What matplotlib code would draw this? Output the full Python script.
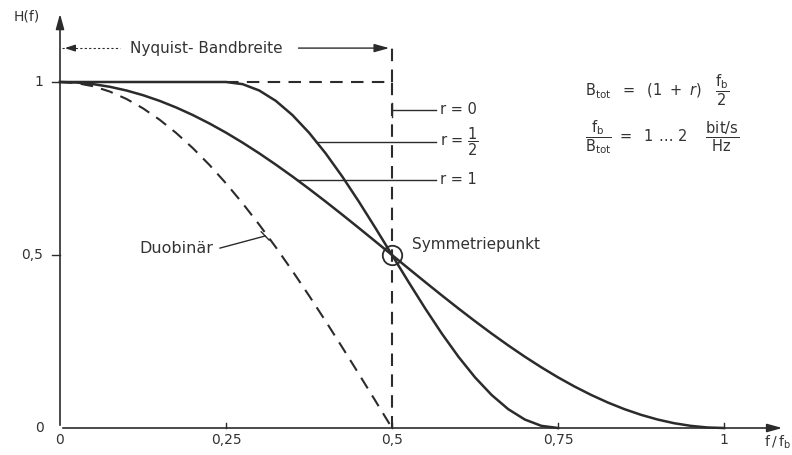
import matplotlib
matplotlib.use("Agg")
import matplotlib.pyplot as plt

plt.rcParams['font.family'] = ['DejaVu Sans']
plt.rcParams['mathtext.fontset'] = 'dejavusans'

# ---- data ----
f_r1 = [0, 0.025, 0.05, 0.075, 0.1, 0.125, 0.15, 0.175, 0.2, 0.225, 0.25, 0.275, 0.3,
        0.325, 0.35, 0.375, 0.4, 0.425, 0.45, 0.475, 0.5, 0.525, 0.55, 0.575, 0.6, 0.625,
        0.65, 0.675, 0.7, 0.725, 0.75, 0.775, 0.8, 0.825, 0.85, 0.875, 0.9, 0.925, 0.95,
        0.975, 1.0]
h_r1 = [1.0, 0.9985, 0.9938, 0.9862, 0.9755, 0.9619, 0.9455, 0.9263, 0.9045, 0.8802,
        0.8536, 0.8247, 0.7939, 0.7612, 0.7270, 0.6913, 0.6545, 0.6167, 0.5782, 0.5392,
        0.5, 0.4608, 0.4218, 0.3833, 0.3455, 0.3087, 0.2730, 0.2388, 0.2061, 0.1753,
        0.1464, 0.1198, 0.0955, 0.0737, 0.0545, 0.0381, 0.0245, 0.0138, 0.0062, 0.0015, 0.0]

f_rhalf = [0, 0.25, 0.275, 0.3, 0.325, 0.35, 0.375, 0.4, 0.425, 0.45, 0.475, 0.5, 0.525,
           0.55, 0.575, 0.6, 0.625, 0.65, 0.675, 0.7, 0.725, 0.75]
h_rhalf = [1.0, 1.0, 0.9938, 0.9755, 0.9455, 0.9045, 0.8536, 0.7939, 0.7270, 0.6545,
           0.5782, 0.5, 0.4218, 0.3455, 0.2730, 0.2061, 0.1464, 0.0955, 0.0545, 0.0245,
           0.0062, 0.0]

f_r0 = [0.25, 0.5, 0.5]
h_r0 = [1.0, 1.0, 0.0]

f_duo = [0, 0.025, 0.05, 0.075, 0.1, 0.125, 0.15, 0.175, 0.2, 0.225, 0.25, 0.275, 0.3,
         0.325, 0.35, 0.375, 0.4, 0.425, 0.45, 0.475, 0.5]
h_duo = [1.0, 0.9969, 0.9877, 0.9724, 0.9511, 0.9239, 0.8910, 0.8526, 0.8090, 0.7604,
         0.7071, 0.6494, 0.5878, 0.5225, 0.4540, 0.3827, 0.3090, 0.2334, 0.1564, 0.0785, 0.0]

x_ticks = [0, 0.25, 0.5, 0.75, 1]
x_ticklabels = ['0', '0,25', '0,5', '0,75', '1']
y_ticks = [0, 0.5, 1]
y_ticklabels = ['0', '0,5', '1']

# ---- figure ----
W, H = 792, 455
fig = plt.figure(figsize=(W / 100, H / 100), dpi=100)
ax = fig.add_axes([0, 0, 1, 1])
x0p, sx = 60, 664.0
y0p, sy = 428, 346.0
ax.set_xlim(-x0p / sx, (W - x0p) / sx)
ax.set_ylim((y0p - H) / sy, y0p / sy)
ax.axis('off')

lc = '#2b2b2b'
tc = '#333333'
lw = 1.5
dash = (0, (6, 4))

# axes with arrows
ax.annotate('', xy=(1.092, 0), xytext=(0, 0),
            arrowprops=dict(arrowstyle='-|>,head_length=0.9,head_width=0.25', color=lc, lw=1.2))
ax.annotate('', xy=(0, 1.205), xytext=(0, 0),
            arrowprops=dict(arrowstyle='-|>,head_length=0.9,head_width=0.25', color=lc, lw=1.2))

# ticks
for t in x_ticks[1:]:
    ax.plot([t, t], [0, 0.015], color=lc, lw=1.0)
for t in y_ticks[1:]:
    ax.plot([-0.012, 0], [t, t], color=lc, lw=1.0)
for t, s in zip(x_ticks, x_ticklabels):
    ax.text(t, -0.015, s, ha='center', va='top', fontsize=10, color=tc)
for t, s in zip(y_ticks, y_ticklabels):
    ax.text(-0.025, t, s, ha='right', va='center', fontsize=10, color=tc)
ax.text(-0.07, 1.19, 'H(f)', ha='left', va='center', fontsize=10, color=tc)
ax.text(1.06, -0.015, r'$\mathrm{f\,/\,f_b}$', ha='left', va='top', fontsize=10, color=tc)

# curves
ax.plot(f_r0, h_r0, color=lc, lw=lw, linestyle=dash)
ax.plot([0.5, 0.5], [1.0, 1.10], color=lc, lw=lw, linestyle=dash)
ax.plot(f_duo, h_duo, color=lc, lw=lw, linestyle=dash)
ax.plot(f_rhalf, h_rhalf, color=lc, lw=1.8)
ax.plot(f_r1, h_r1, color=lc, lw=1.8)

# symmetry point
ax.plot([0.5], [0.5], marker='o', markersize=14, fillstyle='none', color=lc, mew=1.3)
ax.text(0.53, 0.53, 'Symmetriepunkt', ha='left', va='center', fontsize=11, color=tc)

# Nyquist bandwidth arrow
yn = 1.098
ax.plot([0.003, 0.09], [yn, yn], color=lc, lw=0.8, linestyle=(0, (2, 2)))
ax.annotate('', xy=(0.003, yn), xytext=(0.02, yn),
            arrowprops=dict(arrowstyle='-|>,head_length=0.6,head_width=0.2', color=lc, lw=1.0))
ax.text(0.105, yn, 'Nyquist- Bandbreite', ha='left', va='center', fontsize=11, color=tc)
ax.annotate('', xy=(0.5, yn), xytext=(0.355, yn),
            arrowprops=dict(arrowstyle='-|>,head_length=0.9,head_width=0.25', color=lc, lw=1.0))

# r labels
ax.plot([0.5, 0.567], [0.92, 0.92], color=lc, lw=1.0)
ax.plot([0.5, 0.5], [0.90, 0.94], color=lc, lw=1.0)
ax.text(0.572, 0.92, 'r = 0', ha='left', va='center', fontsize=10.5, color=tc)
ax.plot([0.386, 0.567], [0.827, 0.827], color=lc, lw=1.0)
ax.text(0.572, 0.827, r'r = $\mathregular{\dfrac{1}{2}}$', ha='left', va='center', fontsize=10.5, color=tc)
ax.plot([0.357, 0.567], [0.717, 0.717], color=lc, lw=1.0)
ax.text(0.572, 0.717, 'r = 1', ha='left', va='center', fontsize=10.5, color=tc)

# Duobinaer label
ax.plot([0.241, 0.309], [0.52, 0.555], color=lc, lw=1.0)
ax.plot([0.303, 0.315], [0.567, 0.543], color=lc, lw=1.0)
ax.text(0.12, 0.52, 'Duobinär', ha='left', va='center', fontsize=11.5, color=tc)

# formulas
ax.text(0.79, 0.975, r'$\mathrm{B_{tot}}\ \ =\ \ (1\ +\ r)\ \ \ \dfrac{\mathrm{f_b}}{2}$',
        ha='left', va='center', fontsize=10.5, color=tc)
ax.text(0.79, 0.84, r'$\dfrac{\mathrm{f_b}}{\mathrm{B_{tot}}}\ =\ \ 1\ \ldots\ 2\ \ \ \ \dfrac{\mathrm{bit/s}}{\mathrm{Hz}}$',
        ha='left', va='center', fontsize=10.5, color=tc)

fig.savefig('out.png', dpi=100, facecolor='white')
